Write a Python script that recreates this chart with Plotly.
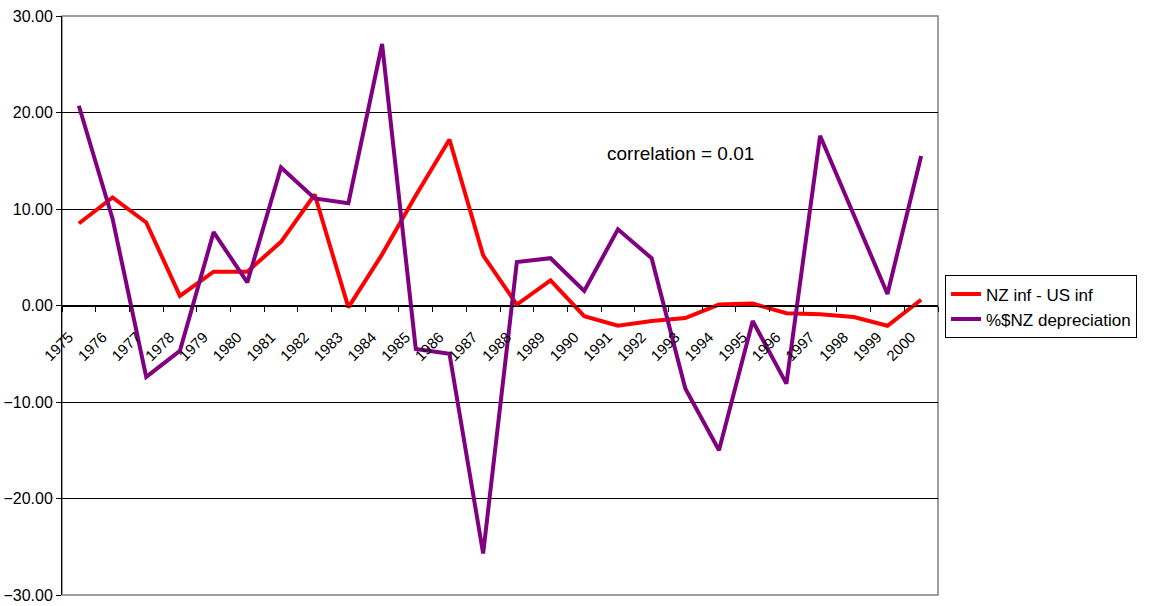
import plotly.graph_objects as go

# Years on the category axis
years = [str(y) for y in range(1975, 2001)]

# Inflation differential, NZ minus US (percentage points)
nz_minus_us_inf = [8.5, 11.2, 8.6, 1.0, 3.5, 3.5, 6.6, 11.5, -0.2, 5.3,
                   11.4, 17.2, 5.2, 0.1, 2.6, -1.1, -2.1, -1.6, -1.3, 0.1,
                   0.2, -0.8, -0.9, -1.2, -2.1, 0.6]

# Percentage depreciation of the NZ dollar
nzd_depreciation = [20.7, 9.0, -7.4, -4.7, 7.6, 2.4, 14.3, 11.1, 10.6, 27.1,
                    -4.5, -5.0, -25.7, 4.5, 4.9, 1.5, 7.9, 4.9, -8.6, -15.0,
                    -1.6, -8.1, 17.6, 9.5, 1.2, 15.5]

y_ticks = [-30, -20, -10, 0, 10, 20, 30]

font_family = "Liberation Sans, Arial, sans-serif"

fig = go.Figure()
fig.add_trace(go.Scatter(
    x=years, y=nz_minus_us_inf, mode="lines", name="NZ inf - US inf",
    line=dict(color="#FF0000", width=4),
))
fig.add_trace(go.Scatter(
    x=years, y=nzd_depreciation, mode="lines", name="%$NZ depreciation",
    line=dict(color="#800080", width=4),
))

fig.update_layout(
    width=1150, height=606,
    margin=dict(l=62, r=212, t=16, b=11),
    paper_bgcolor="white", plot_bgcolor="white",
    font=dict(family=font_family, size=15, color="black"),
    showlegend=True,
    legend=dict(
        x=1.008, y=0.552, xanchor="left", yanchor="top",
        bordercolor="black", borderwidth=1,
        font=dict(size=17, color="black"),
        tracegroupgap=0,
    ),
    xaxis=dict(
        type="category",
        range=[-0.5, len(years) - 0.5],
        automargin=False,
        anchor="free", position=0.5,
        tickson="boundaries",
        ticks="outside", ticklen=5, tickcolor="black",
        showline=True, linecolor="black", linewidth=1,
        showgrid=False, zeroline=False,
        tickangle=-45,
        ticklabelstandoff=16,
        ticklabelshift=-10,
        tickfont=dict(size=15),
    ),
    yaxis=dict(
        range=[-30, 30],
        automargin=False,
        tickvals=y_ticks,
        tickformat=".2f",
        ticks="outside", ticklen=5, tickcolor="black",
        showline=True, linecolor="black", linewidth=1,
        showgrid=True, gridcolor="black", gridwidth=1,
        zeroline=False,
        tickfont=dict(size=16),
    ),
    shapes=[dict(
        type="rect", xref="paper", yref="paper", x0=0, x1=1, y0=0, y1=1,
        line=dict(color="#808080", width=1.5), layer="below",
    )],
    annotations=[dict(
        text="correlation = 0.01", xref="paper", yref="paper",
        x=(680 - 62) / 876, y=(595 - 153) / 579,
        xanchor="center", yanchor="middle", showarrow=False,
        font=dict(size=19, color="black"),
    )],
)

fig.write_html("out.html")
